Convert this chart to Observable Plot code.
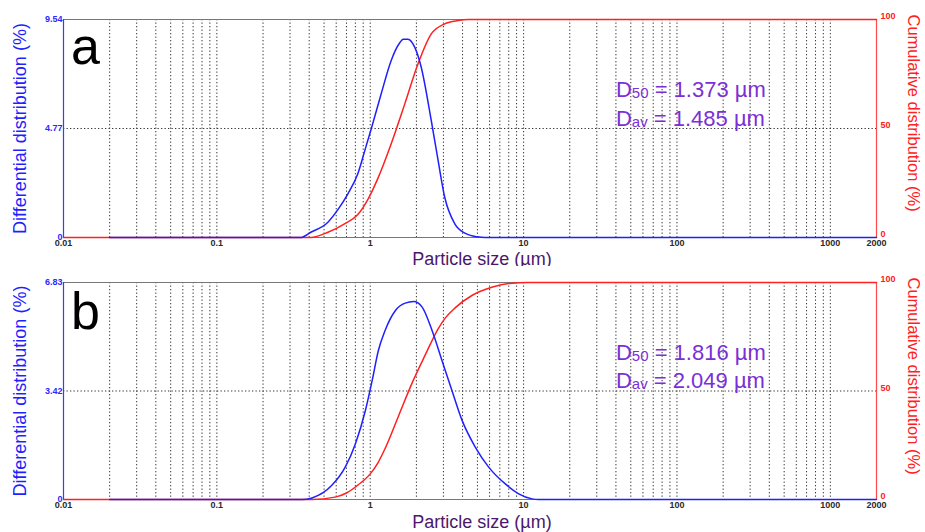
<!DOCTYPE html>
<html><head><meta charset="utf-8">
<script src="https://cdn.jsdelivr.net/npm/d3@7"></script>
<script src="https://cdn.jsdelivr.net/npm/@observablehq/plot@0.6"></script>
<style>
body{margin:0;background:#fff;font-family:"Liberation Sans",Arial,sans-serif;}
#wrap{width:925px;height:532px;position:relative;}
.panel{position:relative;width:925px;height:266px;}
.panel svg{position:absolute;left:0;top:0;}
</style></head><body><div id="wrap"></div>
<script>
// ---- data ----
const panelLetters = ["a", "b"];
const diffMax = [9.54, 6.83];
const diffTicks = [[0, 4.77, 9.54], [0, 3.42, 6.83]];
const diffTickLabels = [["0", "4.77", "9.54"], ["0", "3.42", "6.83"]];
const cumTicks = [0, 50, 100];
const cumTickLabels = ["0", "50", "100"];
const xTicks = [0.01, 0.1, 1, 10, 100, 1000, 2000];
const xTickLabels = ["0.01", "0.1", "1", "10", "100", "1000", "2000"];
const gridX = [0.02,0.03,0.04,0.05,0.06,0.07,0.08,0.09,0.1,
               0.2,0.3,0.4,0.5,0.6,0.7,0.8,0.9,1,
               2,3,4,5,6,7,8,9,10,
               20,30,40,50,60,70,80,90,100,
               200,300,400,500,600,700,800,900,1000];
const d50Values = ["1.373", "1.816"];
const davValues = ["1.485", "2.049"];

// panel a – differential (%)
const sizeDiffA = [0.02,0.35,0.41,0.53,0.62,0.715,0.83,0.94,1.015,1.18,1.37,1.55,1.64,1.76,1.95,2.15,2.5,2.77,3.06,3.56,4.14,5.0,5.6,2000];
const diffA     = [0,   0,   0.23,0.67,1.25,1.91, 2.79,4.0, 4.75, 6.3, 7.75,8.5, 8.68,8.68,8.33,7.45,5.12,3.37,1.76,0.6, 0.19,0.03,0,  0];
// panel a – cumulative (%)
const sizeCumA = [0.01,0.41,0.53,0.68,0.83,0.966,1.12,1.37,1.68,2.05,2.5,3.06,3.74,4.35,2000];
const cumA     = [0,   0,   2.4, 6.3, 10.5,17.5, 27,  43,  61.3,79.7,93.4,98, 99.5,100, 100];

// panel b – differential (%)
const sizeDiffB = [0.02,0.358,0.417,0.56,0.687,0.80,0.93,1.03,1.13,1.25,1.46,1.69,1.92,2.17,2.53,2.94,3.41,3.97,4.84,5.92,7.6,9.29,11.35,12.5,2000];
const diffB     = [0,   0,    0.05, 0.44,1.02, 1.75,2.80,3.75,4.69,5.32,5.95,6.18,6.23,6.07,5.32,4.37,3.43,2.49,1.65,1.02,0.49,0.18,0.02,0,0];
// panel b – cumulative (%)
const sizeCumB = [0.01,0.417,0.59,0.7, 0.84,1.0, 1.12,1.25,1.53,1.87,2.28,2.79,3.1, 3.59,4.6,6.2, 8.4, 10.5,2000];
const cumB     = [0,   0,    1.1, 3.0, 6.9, 11.8,16.8,23.5,38.5,53.5,66.5,79, 83.8,88.4,94, 97.8,99.7,100, 100];

const panels = [
  {diff: sizeDiffA.map((s,i)=>({s, v: diffA[i]})), cum: sizeCumA.map((s,i)=>({s, v: cumA[i]})), mt: 19, mb: 29},
  {diff: sizeDiffB.map((s,i)=>({s, v: diffB[i]})), cum: sizeCumB.map((s,i)=>({s, v: cumB[i]})), mt: 16, mb: 33}
];

const FONT = "Liberation Sans, Arial, sans-serif";
const BLUE = "#1f1fff", RED = "#ff2020", PURPLE = "#7b2fd6";
const W = 925, H = 266, ML = 63, MR = 49;

panels.forEach((p, k) => {
  const div = document.createElement("div");
  div.className = "panel";
  document.getElementById("wrap").appendChild(div);
  const ymax = diffMax[k];
  const common = {width: W, height: H, marginLeft: ML, marginRight: MR, marginTop: p.mt, marginBottom: p.mb};

  // lower layer: cumulative scale (right axis), grid and frame
  const cumFmt = new Map(cumTicks.map((t,i)=>[t, cumTickLabels[i]]));
  const lower = Plot.plot({
    ...common,
    x: {type: "log", domain: [0.01, 2000], axis: null},
    y: {domain: [0, 100]},
    style: {fontFamily: FONT, background: "white", overflow: "visible"},
    marks: [
      Plot.ruleX(gridX, {stroke: "#333", strokeDasharray: "1.3,2.2", strokeWidth: 1}),
      Plot.ruleY([50], {stroke: "#333", strokeDasharray: "1.3,2.2", strokeWidth: 1}),
      Plot.ruleY([100], {stroke: "#777", strokeWidth: 1.2}),
      Plot.ruleY([0], {stroke: "#777", strokeWidth: 1.2}),
      Plot.ruleX([2000], {stroke: "#ff4a4a", strokeWidth: 1.2}),
      Plot.axisY({anchor: "right", ticks: cumTicks, tickFormat: d => cumFmt.get(d), tickSize: 0, tickPadding: 4,
                  dy: -3, color: RED, fontSize: 9, fontWeight: "bold", label: null}),
      Plot.line(p.cum, {x: "s", y: "v", stroke: RED, strokeWidth: 1.5, curve: "monotone-x"}),
      Plot.text(["Cumulative distribution (%)"], {frameAnchor: "top-right", rotate: 90, textAnchor: "start",
                  lineAnchor: "middle", dx: 37, dy: -5, fontSize: 16.5, fill: RED})
    ]
  });

  // upper layer: differential scale (left axis)
  const diffFmt = new Map(diffTicks[k].map((t,i)=>[t, diffTickLabels[k][i]]));
  const xFmt = new Map(xTicks.map((t,i)=>[t, xTickLabels[i]]));
  const annot = [
    {main: "D", sub: "50", rest: " = " + d50Values[k] + " µm", y: ymax * 0.645},
    {main: "D", sub: "av", rest: " = " + davValues[k] + " µm", y: ymax * 0.513}
  ];
  const annotText = d => d.main + d.sub + d.rest;
  const upper = Plot.plot({
    ...common,
    x: {type: "log", domain: [0.01, 2000]},
    y: {domain: [0, ymax]},
    style: {fontFamily: FONT, background: "transparent", overflow: "visible"},
    marks: [
      Plot.ruleX([0.01], {stroke: "#3a3aff", strokeWidth: 1.2}),
      Plot.axisY({anchor: "left", ticks: diffTicks[k], tickFormat: d => diffFmt.get(d), tickSize: 0, tickPadding: 1,
                  color: "#2a2aff", fontSize: 9, fontWeight: "bold", label: null}),
      Plot.axisX({ticks: xTicks, tickFormat: d => xFmt.get(d), tickSize: 0, tickPadding: 2,
                  color: "#2a2a2a", fontSize: 9, fontWeight: "bold", label: null}),
      Plot.line(p.diff, {x: "s", y: "v", stroke: BLUE, strokeWidth: 1.5, curve: "monotone-x"}),
      Plot.text(["Particle size (µm)"], {frameAnchor: "bottom", textAnchor: "middle", lineAnchor: "middle",
                  dx: 12, dy: 22 + k, fontSize: 18, fill: "#4b176b"}),
      Plot.text(["Differential distribution (%)"], {frameAnchor: "left", rotate: -90, textAnchor: "middle",
                  lineAnchor: "middle", dx: -43, fontSize: 18, fill: BLUE}),
      Plot.text([panelLetters[k]], {frameAnchor: "top-left", textAnchor: "start", lineAnchor: "bottom",
                  dx: 7.5, dy: 44 + 2 * k, fontSize: 52, fill: "#000"}),
      Plot.text(annot, {x: () => 40, y: "y", text: annotText, textAnchor: "start",
                  lineAnchor: "bottom", fontSize: 22, fill: PURPLE})
    ]
  });

  const byText = new Map(annot.map(d => [annotText(d), d]));
  d3.select(upper).selectAll("text").each(function() {
    const d = byText.get(this.textContent);
    if (!d) return;
    const t = d3.select(this);
    t.text(null);
    t.append("tspan").text(d.main);
    t.append("tspan").attr("font-size", 15).attr("dy", 1).text(d.sub);
    t.append("tspan").attr("dy", -1).text(d.rest);
  });

  div.appendChild(lower);
  div.appendChild(upper);
});
</script></body></html>
